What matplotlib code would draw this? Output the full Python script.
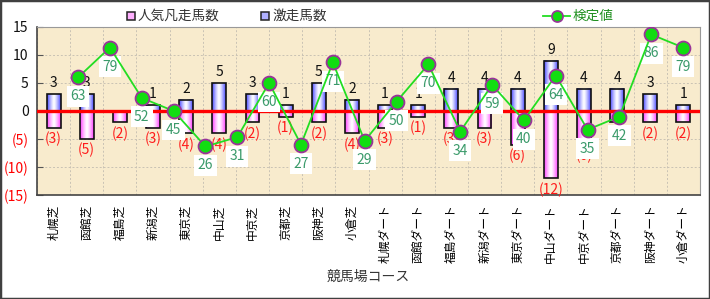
import matplotlib
matplotlib.use('Agg')
import matplotlib.pyplot as plt
import numpy as np
from matplotlib.lines import Line2D
from matplotlib.patches import Rectangle

plt.rcParams['font.family'] = ['Noto Sans CJK JP', 'DejaVu Sans']

courses = ['札幌芝', '函館芝', '福島芝', '新潟芝', '東京芝', '中山芝', '中京芝', '京都芝', '阪神芝', '小倉芝',
           '札幌ダート', '函館ダート', '福島ダート', '新潟ダート', '東京ダート', '中山ダート', '中京ダート',
           '京都ダート', '阪神ダート', '小倉ダート']
gekiso = [3, 3, 0, 1, 2, 5, 3, 1, 5, 2, 1, 1, 4, 4, 4, 9, 4, 4, 3, 1]          # 激走馬数
bonso = [3, 5, 2, 3, 4, 4, 2, 1, 2, 4, 3, 1, 3, 3, 6, 12, 6, 2, 2, 2]          # 人気凡走馬数
kentei = [63, 79, 52, 45, 26, 31, 60, 27, 71, 29, 50, 70, 34, 59, 40, 64, 35, 42, 86, 79]  # 検定値
yticks = [15, 10, 5, 0, -5, -10, -15]
ytick_labels = ['15', '10', '5', '0', '(5)', '(10)', '(15)']

W, H = 710, 299
fig = plt.figure(figsize=(W / 100, H / 100), dpi=100)
rect = [37 / W, 1 - 195 / H, 663 / W, 168 / H]
ax = fig.add_axes(rect)
ax.set_facecolor('#f8ebcd')

n = len(courses)
x = np.arange(n)
w = 0.42

pos_bars = ax.bar(x, gekiso, width=w, facecolor='none', edgecolor='#111111', lw=1.2, zorder=4)
neg_bars = ax.bar(x, [-v for v in bonso], width=w, facecolor='none', edgecolor='#111111', lw=1.2, zorder=4)

g = np.linspace(-1, 1, 64)
t = np.abs(g) ** 1.3


def grad_img(color):
    c = np.array(matplotlib.colors.to_rgb(color))
    row = (1 - t)[:, None] * np.ones(3) + t[:, None] * c
    return row[None, :, :]


blue_img = grad_img('#4646ff')
pink_img = grad_img('#ff3cff')
for p in pos_bars.patches:
    if p.get_height() != 0:
        ax.imshow(blue_img, extent=[p.get_x(), p.get_x() + p.get_width(), p.get_y(), p.get_y() + p.get_height()],
                  aspect='auto', zorder=3, interpolation='bilinear')
for p in neg_bars.patches:
    if p.get_height() != 0:
        ax.imshow(pink_img, extent=[p.get_x(), p.get_x() + p.get_width(), p.get_y() + p.get_height(), p.get_y()],
                  aspect='auto', zorder=3, interpolation='bilinear')

# bar labels
for xi, v in zip(x, gekiso):
    if v != 0:
        ax.annotate(str(v), (xi, v), xytext=(0, 4), textcoords='offset pixels', ha='center', va='bottom',
                    fontsize=10, color='#111111', zorder=5)
for xi, v in zip(x, bonso):
    ax.annotate('(%d)' % v, (xi, -v), xytext=(0, -4), textcoords='offset pixels', ha='center', va='top',
                fontsize=10, color='#ff1a1a', zorder=5)

ax.axhline(0, color='#ff0000', lw=2.4, zorder=4.5)

ax.set_xlim(-0.5, n - 0.5)
ax.set_ylim(-15, 15)
ax.set_yticks(yticks)
ax.set_yticklabels(ytick_labels, fontsize=10)
for lbl, v in zip(ax.get_yticklabels(), yticks):
    lbl.set_color('#ff0000' if v < 0 else '#111111')
ax.set_xticks(x)
ax.set_xticklabels(courses, rotation=90, fontsize=8.5, va='top', ha='center')
ax.tick_params(axis='x', length=0, pad=7)
ax.tick_params(axis='y', direction='in', length=4, pad=6, color='#555555')
ax.set_xticks(np.arange(-0.5, n, 1), minor=True)
ax.grid(True, which='minor', axis='x', color='#c9c2b4', ls=(0, (2, 2)), lw=0.7, zorder=1)
ax.grid(True, which='major', axis='y', color='#c9c2b4', ls=(0, (2, 2)), lw=0.7, zorder=1)
ax.tick_params(axis='x', which='minor', length=0)
for s in ['left', 'bottom']:
    ax.spines[s].set_color('#444444')
    ax.spines[s].set_linewidth(1.2)
for s in ['right', 'top']:
    ax.spines[s].set_color('#999999')
ax.set_xlabel('競馬場コース', fontsize=10, color='#333333')
ax.xaxis.set_label_coords(0.5, -0.485)
ax.xaxis.label.set_va('center')

# line on secondary axes
ax2 = fig.add_axes(rect, frameon=False)
ax2.set_xlim(-1.29, n - 0.47)
ax2.set_ylim(0, 90)
ax2.axis('off')
ax2.plot(x, kentei, color='#22dd22', lw=1.3, marker='o', markersize=10, markerfacecolor='#11dd11',
         markeredgecolor='#993399', markeredgewidth=1.3, zorder=6)
for xi, v in zip(x, kentei):
    ax2.annotate(str(v), (xi, v), xytext=(0, -19), textcoords='offset pixels', ha='center', va='center',
                 fontsize=10, color='#3a9a6a', zorder=5,
                 bbox=dict(boxstyle='square,pad=0.25', fc='white', ec='none'))

# legend
def leg_square(xp, color):
    fig.add_artist(Line2D([xp / W], [1 - 16 / H], transform=fig.transFigure, marker='s', markersize=6,
                          markerfacecolor=color, markeredgecolor='#222222', markeredgewidth=1.1, ls='none'))

leg_square(131, '#ffb0ff')
fig.text(138 / W, 1 - 16 / H, '人気凡走馬数', fontsize=9.8, color='#333333', va='center', ha='left')
leg_square(265, '#b0b0ff')
fig.text(272 / W, 1 - 16 / H, '激走馬数', fontsize=9.8, color='#333333', va='center', ha='left')
fig.add_artist(Line2D([543 / W, 570 / W], [1 - 16 / H, 1 - 16 / H], transform=fig.transFigure,
                      color='#22dd22', lw=1.3))
fig.add_artist(Line2D([556.5 / W], [1 - 16 / H], transform=fig.transFigure, marker='o', markersize=8,
                      markerfacecolor='#11dd11', markeredgecolor='#993399', markeredgewidth=1.2, ls='none'))
fig.text(573 / W, 1 - 16 / H, '検定値', fontsize=9.8, color='#1f8f1f', va='center', ha='left')

fig.add_artist(Rectangle((0, 0), 1, 1, transform=fig.transFigure, fill=False, edgecolor='#404040', lw=2.5))

fig.savefig('out.png', dpi=100, facecolor='white')
